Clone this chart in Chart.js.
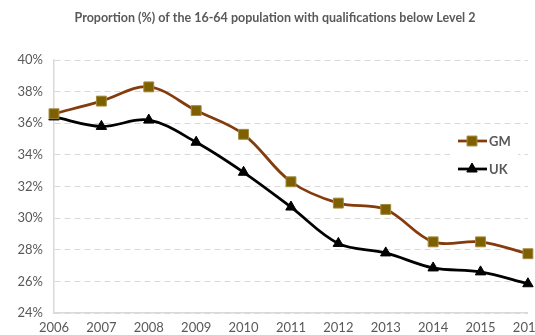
<!DOCTYPE html>
<html>
<head>
<meta charset="utf-8">
<script src="https://cdn.jsdelivr.net/npm/chart.js@4"></script>
<style>
  html, body { margin: 0; padding: 0; background: #fff; overflow: hidden; }
  #wrap { width: 550px; height: 335px; }
</style>
</head>
<body>
<div id="wrap"><canvas id="qual"></canvas></div>
<script>
// data
const years = ['2006','2007','2008','2009','2010','2011','2012','2013','2014','2015','2016'];
const gm = [36.6, 37.4, 38.3, 36.8, 35.3, 32.3, 30.95, 30.55, 28.5, 28.5, 27.75];
const uk = [36.4, 35.8, 36.2, 34.8, 32.9, 30.7, 28.4, 27.8, 26.85, 26.6, 25.85];
const yMin = 24, yMax = 40, yStep = 2;

const grey = '#595959';
const font = "Lato, 'Open Sans', sans-serif";

// legend drawn inside the plot, right side (like the excel one)
const innerLegend = {
    id: 'innerLegend',
    afterDatasetsDraw(chart) {
        const ctx = chart.ctx;
        const items = [
            {label: 'GM', line: '#843c0c', fill: '#7f6000', border: '#a08a40', style: 'rect', r: 7},
            {label: 'UK', line: '#000000', fill: '#000000', border: '#000000', style: 'triangle', r: 6}
        ];
        ctx.save();
        ctx.fillStyle = '#fff';
        ctx.fillRect(450, 126, 68, 56);
        items.forEach(function(it, i) {
            let y = 141 + i * 28;
            ctx.strokeStyle = it.line;
            ctx.lineWidth = 2.75;
            ctx.beginPath();
            ctx.moveTo(458, y);
            ctx.lineTo(487, y);
            ctx.stroke();
            ctx.fillStyle = it.fill;
            ctx.strokeStyle = it.border;
            ctx.lineWidth = 1;
            Chart.helpers.drawPoint(ctx, {pointStyle: it.style, radius: it.r, borderWidth: 1}, 472, y);
            ctx.fillStyle = grey;
            ctx.font = "bold 13px " + font;
            ctx.textBaseline = 'middle';
            ctx.fillText(it.label, 489, y + 1);
        });
        ctx.restore();
    }
};

let chart = new Chart(document.getElementById('qual'), {
    type: 'line',
    data: {
        labels: years,
        datasets: [
            {
                label: 'GM',
                data: gm,
                borderColor: '#843c0c',
                borderWidth: 2.75,
                pointStyle: 'rect',
                pointRadius: 7,
                pointBackgroundColor: '#7f6000',
                pointBorderColor: '#a08a40',
                pointBorderWidth: 1,
                tension: 0.35
            },
            {
                label: 'UK',
                data: uk,
                borderColor: '#000000',
                borderWidth: 2.75,
                pointStyle: 'triangle',
                pointRadius: 6,
                pointBackgroundColor: '#000000',
                pointBorderColor: '#000000',
                pointBorderWidth: 1,
                tension: 0.35
            }
        ]
    },
    plugins: [innerLegend],
    options: {
        responsive: true,
        maintainAspectRatio: false,
        animation: false,
        layout: { padding: { top: 4, right: 0, left: 0, bottom: 0 } },
        plugins: {
            legend: { display: false },
            tooltip: { enabled: false },
            title: {
                display: true,
                text: 'Proportion (%) of the 16-64 population with qualifications below Level 2',
                color: grey,
                font: { family: font, size: 12.5, weight: 'bold' },
                padding: { top: 6, bottom: 35 }
            }
        },
        scales: {
            x: {
                offset: false,
                grid: { display: false, drawTicks: false },
                border: { color: '#d9d9d9', width: 1.5 },
                ticks: { color: grey, font: { family: font, size: 13 }, padding: 7, maxRotation: 0 },
                afterFit: s => { s.height = 22; }
            },
            y: {
                min: yMin,
                max: yMax,
                ticks: {
                    stepSize: yStep,
                    color: grey,
                    font: { family: font, size: 13 },
                    padding: 11,
                    callback: v => v + '%'
                },
                grid: { color: '#d9d9d9', drawTicks: false },
                border: { color: '#d9d9d9', width: 1.5, dash: [6, 4] },
                afterFit: s => { s.width = 54; }
            }
        }
    }
});
</script>
</body>
</html>
